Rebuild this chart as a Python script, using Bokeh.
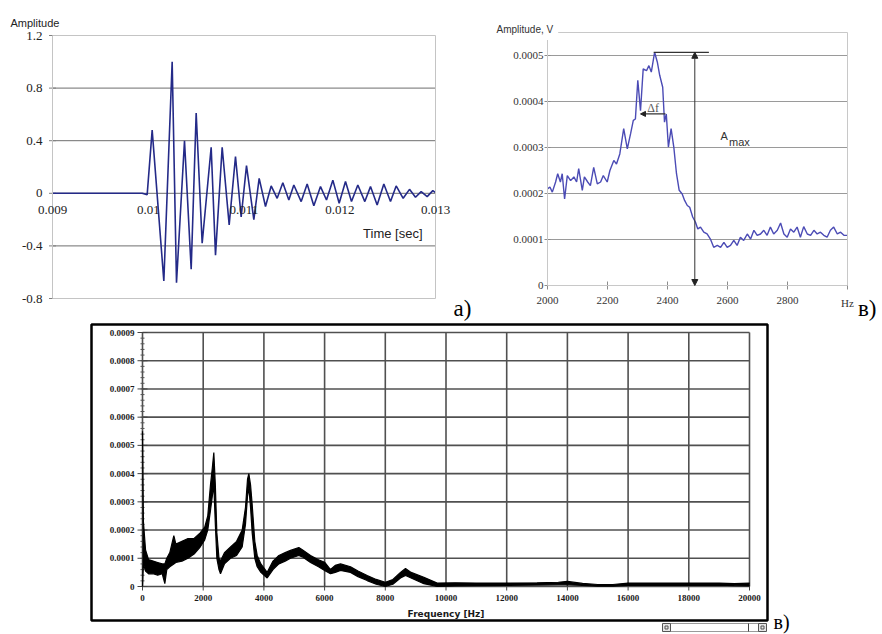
import math
from bokeh.plotting import figure
from bokeh.layouts import column, row
from bokeh.models import (Range1d, Label, LabelSet, Arrow, NormalHead, BoxAnnotation,
                          ColumnDataSource)
from bokeh.embed import file_html
from bokeh.resources import INLINE

# ---------------- data: a) time signal ----------------
a_time = [0.0090000, 0.0099365, 0.0099887, 0.0100409, 0.0101627, 0.0102498, 0.0102950, 0.0103786, 0.0104483, 0.0105005,
          0.0105631, 0.0106571, 0.0107023, 0.0107720, 0.0108451, 0.0109112, 0.0109704, 0.0110261, 0.0111027, 0.0111584,
          0.0112245, 0.0112837, 0.0113464, 0.0114056, 0.0114682, 0.0115204, 0.0115971, 0.0116597, 0.0117293, 0.0117990,
          0.0118616, 0.0119278, 0.0119939, 0.0120601, 0.0121227, 0.0121888, 0.0122619, 0.0123211, 0.0123907, 0.0124604,
          0.0125300, 0.0125892, 0.0126623, 0.0127285, 0.0127911, 0.0128503, 0.0129130, 0.0129721, 0.0130000]
a_amp = [0.0, 0.0, -0.01, 0.48, -0.667, 1.0, -0.68, 0.40, -0.578, 0.61,
         -0.38, 0.35, -0.47, 0.35, -0.24, 0.28, -0.18, 0.21, -0.20, 0.114,
         -0.10, 0.056, -0.038, 0.081, -0.051, 0.063, -0.063, 0.071, -0.095, 0.051,
         -0.051, 0.10, -0.076, 0.089, -0.063, 0.063, -0.063, 0.051, -0.089, 0.071,
         -0.063, 0.056, -0.038, 0.030, -0.030, 0.013, -0.025, 0.020, 0.005]
a_xlim = [0.009, 0.013]
a_ylim = [-0.8, 1.2]
a_yticks = [-0.8, -0.4, 0.0, 0.4, 0.8, 1.2]
a_ytick_labels = ["-0.8", "-0.4", "0", "0.4", "0.8", "1.2"]
a_ygrid = [-0.4, 0.0, 0.4, 0.8]
a_xticks = [0.009, 0.010, 0.011, 0.012, 0.013]
a_xtick_labels = ["0.009", "0.01", "0.011", "0.012", "0.013"]

# ---------------- data: top-right spectrum detail ----------------
b_freq = [2000, 2008, 2016, 2027, 2034, 2043, 2049, 2057, 2066, 2077,
          2088, 2097, 2104, 2116, 2123, 2134, 2143, 2154, 2166, 2177,
          2186, 2199, 2208, 2221, 2230, 2241, 2254, 2266, 2277, 2286,
          2293, 2301, 2310, 2319, 2330, 2338, 2346, 2357, 2366, 2374,
          2384, 2390, 2396, 2403, 2412, 2421, 2430, 2439, 2449, 2457,
          2466, 2474, 2484, 2493, 2501, 2510, 2521, 2532, 2543, 2554,
          2566, 2577, 2588, 2599, 2610, 2621, 2632, 2643, 2654, 2666,
          2677, 2688, 2699, 2710, 2721, 2732, 2743, 2754, 2766, 2777,
          2788, 2799, 2810, 2821, 2832, 2843, 2854, 2866, 2877, 2888,
          2899, 2910, 2921, 2932, 2943, 2954, 2966, 2977, 2988, 3000]
b_amp_e4 = [2.10, 2.14, 2.03, 2.25, 2.43, 2.25, 2.43, 1.88, 2.39, 2.28,
            2.36, 2.25, 2.54, 2.07, 2.36, 2.25, 2.17, 2.57, 2.21, 2.25,
            2.39, 2.25, 2.50, 2.72, 2.64, 2.86, 3.41, 2.97, 3.30, 3.59,
            3.62, 4.46, 3.80, 4.71, 4.67, 4.78, 4.64, 5.07, 4.86, 4.57,
            4.31, 3.55, 3.73, 3.01, 3.41, 3.01, 2.43, 2.07, 1.99, 1.85,
            1.74, 1.70, 1.49, 1.38, 1.23, 1.27, 1.16, 1.12, 1.01, 0.83,
            0.87, 0.83, 0.94, 0.83, 0.87, 0.98, 0.87, 1.05, 0.98, 1.12,
            1.01, 1.20, 1.09, 1.12, 1.20, 1.09, 1.27, 1.12, 1.20, 1.36,
            1.12, 1.05, 1.23, 1.16, 1.27, 1.05, 1.28, 1.12, 1.09, 1.20,
            1.12, 1.16, 1.09, 1.05, 1.20, 1.27, 1.12, 1.16, 1.09, 1.09]
b_xlim = [2000, 3000]
b_ylim = [0.0, 0.00055]
b_yticks = [0.0, 0.0001, 0.0002, 0.0003, 0.0004, 0.0005]
b_ytick_labels = ["0", "0.0001", "0.0002", "0.0003", "0.0004", "0.0005"]
b_ygrid = [0.0001, 0.0002, 0.0003, 0.0004, 0.0005]
b_xticks = [2000, 2200, 2400, 2600, 2800, 3000]
b_xtick_labels = ["2000", "2200", "2400", "2600", "2800", "Hz"]
b_amax_freq = 2491            # vertical A_max arrow
b_top_line = [2354, 2538]     # horizontal line at the maximum
b_df_level = 0.000373         # Δf arrow level
b_df_span = [2393, 2310]

# ---------------- data: bottom full spectrum (band of the noisy trace) ----------------
c_freq = [0, 30, 100, 200, 350, 500, 650, 736, 800, 900,
          1032, 1100, 1300, 1500, 1700, 1900, 2050, 2150, 2240, 2300,
          2350, 2400, 2450, 2520, 2570, 2700, 2900, 3100, 3284, 3393,
          3460, 3504, 3560, 3614, 3700, 3779, 3900, 4108, 4300, 4493,
          4700, 4877, 5150, 5265, 5536, 5800, 6000, 6195, 6350, 6525,
          6854, 7100, 7403, 7700, 8000, 8250, 8500, 8666, 8850, 9270,
          9710, 10300, 11000, 12000, 13000, 13700, 14000, 14500, 15000, 15500,
          16000, 17000, 18000, 19000, 19500, 20000]
c_low_e4 = [0.0, 0.8, 0.55, 0.45, 0.45, 0.4, 0.45, 0.1, 0.6, 0.7,
            0.8, 0.85, 0.9, 1.0, 1.15, 1.4, 1.65, 2.0, 2.7, 3.2,
            3.6, 2.2, 1.0, 0.6, 0.45, 0.8, 1.0, 1.1, 1.4, 2.2,
            3.2, 3.5, 2.8, 1.9, 1.0, 0.7, 0.5, 0.3, 0.6, 0.8,
            0.9, 1.0, 1.1, 1.05, 0.85, 0.7, 0.57, 0.45, 0.5, 0.57,
            0.5, 0.35, 0.21, 0.08, 0.0, 0.08, 0.3, 0.39, 0.3, 0.1,
            0.0, 0.02, 0.03, 0.04, 0.05, 0.06, 0.06, 0.04, 0.01, 0.01,
            0.04, 0.05, 0.04, 0.05, 0.03, 0.02]
c_high_e4 = [5.5, 2.3, 1.3, 0.95, 0.9, 0.85, 0.8, 0.8, 1.0, 1.2,
             1.8, 1.5, 1.6, 1.7, 1.7, 1.9, 2.1, 2.5, 3.6, 4.2,
             4.75, 3.6, 1.9, 1.0, 0.9, 1.2, 1.4, 1.6, 2.0, 2.8,
             3.8, 4.0, 3.6, 2.9, 1.6, 1.1, 0.8, 0.5, 0.9, 1.1,
             1.2, 1.28, 1.38, 1.3, 1.1, 0.95, 0.86, 0.6, 0.75, 0.8,
             0.7, 0.55, 0.39, 0.25, 0.15, 0.25, 0.5, 0.64, 0.5, 0.33,
             0.12, 0.13, 0.12, 0.12, 0.13, 0.15, 0.18, 0.11, 0.07, 0.07,
             0.12, 0.12, 0.12, 0.12, 0.10, 0.12]
c_xlim = [0, 20000]
c_ylim = [0.0, 0.0009]
c_yticks = [0.0, 0.0001, 0.0002, 0.0003, 0.0004, 0.0005, 0.0006, 0.0007, 0.0008, 0.0009]
c_ytick_labels = ["0", "0.0001", "0.0002", "0.0003", "0.0004", "0.0005", "0.0006", "0.0007", "0.0008", "0.0009"]
c_xticks = [0, 2000, 4000, 6000, 8000, 10000, 12000, 14000, 16000, 18000, 20000]
c_xtick_labels = ["0", "2000", "4000", "6000", "8000", "10000", "12000", "14000", "16000", "18000", "20000"]
c_minor_step = 0.00002

UNIT = 1e-4
b_amp = [v * UNIT for v in b_amp_e4]
c_low = [v * UNIT for v in c_low_e4]
c_high = [v * UNIT for v in c_high_e4]

SANS = "Liberation Sans"
SERIF = "Liberation Serif"
TAHOMA = "DejaVu Sans"


# ---------- helpers: place a plot area (in canvas pixels) inside a full-canvas frame ----------
def x_range_for(lo, hi, px_lo, px_hi, width):
    s = (hi - lo) / (px_hi - px_lo)
    return Range1d(lo - px_lo * s, hi + (width - px_hi) * s)


def y_range_for(lo, hi, px_top, px_bottom, height):
    s = (hi - lo) / (px_bottom - px_top)
    return Range1d(lo - (height - px_bottom) * s, hi + px_top * s)


def make_fig(w, h, xr, yr):
    p = figure(width=w, height=h, x_range=xr, y_range=yr, output_backend="svg",
               toolbar_location=None, x_axis_location=None, y_axis_location=None,
               min_border=0, min_border_left=0, min_border_right=0,
               min_border_top=0, min_border_bottom=0)
    p.outline_line_color = None
    p.background_fill_color = "white"
    p.border_fill_color = "white"
    p.grid.visible = False
    return p


def labelset(p, xs, ys, texts, **kw):
    src = ColumnDataSource(dict(x=xs, y=ys, t=texts))
    p.add_layout(LabelSet(x="x", y="y", text="t", source=src, **kw))


# ================= figure a) =================
AW, AH = 480, 322
pa = make_fig(AW, AH, x_range_for(a_xlim[0], a_xlim[1], 52, 435, AW),
              y_range_for(a_ylim[0], a_ylim[1], 35, 298, AH))
pa.add_layout(BoxAnnotation(left=a_xlim[0], right=a_xlim[1], bottom=a_ylim[0], top=a_ylim[1],
                            fill_color=None, line_color="#c4c4c4", line_alpha=1, line_width=1))
pa.segment(x0=[a_xlim[0]] * len(a_ygrid), y0=a_ygrid, x1=[a_xlim[1]] * len(a_ygrid), y1=a_ygrid,
           line_color="#6e6e6e", line_width=1)
pa.segment(x0=[a_xlim[0]], y0=[a_ylim[0]], x1=[a_xlim[0]], y1=[a_ylim[1]],
           line_color="#808080", line_width=1)
pa.scatter([a_xlim[0]] * len(a_yticks), a_yticks, marker="dash", size=7,
           line_color="#808080", line_width=1)
labelset(pa, [a_xlim[0]] * len(a_yticks), a_yticks, a_ytick_labels, x_offset=-10,
         text_align="right", text_baseline="middle", text_font=SANS,
         text_font_size="13px", text_color="#222222")
labelset(pa, a_xticks, [0.0] * len(a_xticks), a_xtick_labels, y_offset=-13,
         text_align="center", text_baseline="top", text_font=SANS,
         text_font_size="13px", text_color="#222222")
pa.line(a_time, a_amp, line_color="#242a88", line_width=1.6)
pa.add_layout(Label(x=a_xlim[0], y=a_ylim[1], x_offset=-42, y_offset=13, text="Amplitude",
                    text_font=SANS, text_font_size="11px", text_color="#222222",
                    text_baseline="alphabetic"))
pa.add_layout(Label(x=a_xlim[1], y=0.0, x_offset=-13, y_offset=-40, text="Time [sec]",
                    text_font=SANS, text_font_size="13px", text_color="#222222",
                    text_align="right", text_baseline="alphabetic"))
pa.add_layout(Label(x=a_xlim[1], y=a_ylim[0], x_offset=18, y_offset=-10, text="a)",
                    text_font=SERIF, text_font_size="23px", text_color="black",
                    text_baseline="alphabetic"))

# ================= figure b) =================
BW, BH = 402, 322
pb = make_fig(BW, BH, x_range_for(b_xlim[0], b_xlim[1], 67, 367, BW),
              y_range_for(0.0, 0.0005, 55, 285, BH))
pb.add_layout(BoxAnnotation(left=b_xlim[0], right=b_xlim[1], bottom=b_ylim[0], top=b_ylim[1],
                            fill_color=None, line_color="#c8c8c8", line_alpha=1, line_width=1))
pb.segment(x0=[b_xlim[0]] * len(b_ygrid), y0=b_ygrid, x1=[b_xlim[1]] * len(b_ygrid), y1=b_ygrid,
           line_color="#9a9a9a", line_width=1)
pb.segment(x0=[b_xlim[0], b_xlim[0]], y0=[b_ylim[0], b_ylim[0]],
           x1=[b_xlim[0], b_xlim[1]], y1=[b_ylim[1], b_ylim[0]],
           line_color="#8c8c8c", line_width=1)
pb.scatter([b_xlim[0]] * len(b_yticks), b_yticks, marker="dash", size=6,
           line_color="#8c8c8c", line_width=1)
pb.scatter(b_xticks, [0.0] * len(b_xticks), marker="dash", size=8, angle=math.pi / 2,
           line_color="#8c8c8c", line_width=1)
labelset(pb, [b_xlim[0]] * len(b_yticks), b_yticks, b_ytick_labels, x_offset=-4,
         text_align="right", text_baseline="middle", text_font=SANS,
         text_font_size="11px", text_color="#333333")
labelset(pb, b_xticks, [0.0] * len(b_xticks), b_xtick_labels, y_offset=-11,
         text_align="center", text_baseline="top", text_font=SANS,
         text_font_size="11px", text_color="#333333")
pb.line(b_freq, b_amp, line_color="#4b4bb5", line_width=1.4)

peak = max(b_amp)
pb.segment(x0=[b_top_line[0]], y0=[peak], x1=[b_top_line[1]], y1=[peak],
           line_color="#333333", line_width=1.2)
pb.add_layout(Arrow(start=NormalHead(size=6, fill_color="#222222", line_color="#222222"),
                    end=NormalHead(size=6, fill_color="#222222", line_color="#222222"),
                    x_start=b_amax_freq, y_start=peak, x_end=b_amax_freq, y_end=0,
                    line_color="#333333", line_width=1))
pb.add_layout(Arrow(end=NormalHead(size=5, fill_color="#222222", line_color="#222222"),
                    x_start=b_df_span[0], y_start=b_df_level, x_end=b_df_span[1], y_end=b_df_level,
                    line_color="#333333", line_width=1.2))
pb.add_layout(Label(x=2352, y=0.000385, text="Δf", text_font=SERIF, text_font_size="12px",
                    text_color="#555555", text_align="center", text_baseline="alphabetic"))
pb.add_layout(Label(x=2577, y=0.000326, text="A", text_font=SANS, text_font_size="11px",
                    text_color="#333333", text_baseline="alphabetic"))
pb.add_layout(Label(x=2605, y=0.000311, text="max", text_font=SANS, text_font_size="11px",
                    text_color="#333333", text_baseline="alphabetic"))
pb.add_layout(Label(x=b_xlim[0], y=b_ylim[1], x_offset=-56, y_offset=3, text="Amplitude, V",
                    text_font=SANS, text_font_size="10px", text_color="#333333",
                    text_baseline="alphabetic", background_fill_color="white", padding=5))
pb.add_layout(Label(x=b_xlim[1], y=0.0, x_offset=29, y_offset=-23, text="в)",
                    text_font=SERIF, text_font_size="23px", text_color="black",
                    text_align="right", text_baseline="alphabetic"))

# ================= figure c) =================
CW, CH = 882, 312
pc = make_fig(CW, CH, x_range_for(c_xlim[0], c_xlim[1], 142, 749, CW),
              y_range_for(c_ylim[0], c_ylim[1], 10, 264, CH))
nx, ny = len(c_xticks), len(c_yticks)
pc.segment(x0=c_xticks, y0=[c_ylim[0]] * nx, x1=c_xticks, y1=[c_ylim[1]] * nx,
           line_color="#505050", line_width=1.6)
pc.segment(x0=[c_xlim[0]] * ny, y0=c_yticks, x1=[c_xlim[1]] * ny, y1=c_yticks,
           line_color="#505050", line_width=1.6)
c_minor = [i * c_minor_step for i in range(int(round(c_ylim[1] / c_minor_step)) + 1)]
pc.scatter([c_xlim[0]] * len(c_minor), c_minor, marker="dash", size=4,
           line_color="#555555", line_width=1)
pc.scatter([c_xlim[0]] * ny, c_yticks, marker="dash", size=10,
           line_color="#444444", line_width=1)
pc.scatter(c_xticks, [c_ylim[0]] * nx, marker="dash", size=8, angle=math.pi / 2,
           line_color="#444444", line_width=1)
labelset(pc, [c_xlim[0]] * ny, c_yticks, c_ytick_labels, x_offset=-8,
         text_align="right", text_baseline="middle", text_font=TAHOMA,
         text_font_style="bold", text_font_size="9px", text_color="#1a1a1a")
labelset(pc, c_xticks, [c_ylim[0]] * nx, c_xtick_labels, y_offset=-8,
         text_align="center", text_baseline="top", text_font=TAHOMA,
         text_font_style="bold", text_font_size="9px", text_color="#1a1a1a")
pc.add_layout(Label(x=(c_xlim[0] + c_xlim[1]) / 2, y=c_ylim[0], y_offset=-27, text="Frequency [Hz]",
                    text_font=TAHOMA, text_font_style="bold", text_font_size="9px",
                    text_color="#1a1a1a", text_align="center", text_baseline="alphabetic"))

pc.varea(x=c_freq, y1=c_low, y2=c_high, fill_color="black")
pc.line(c_freq, c_high, line_color="black", line_width=1.2)
pc.line(c_freq, c_low, line_color="black", line_width=1.2)

# outer frame of the screenshot (screen units = canvas pixels from bottom-left)
pc.add_layout(BoxAnnotation(left=91, right=767, bottom=14, top=310,
                            left_units="screen", right_units="screen",
                            bottom_units="screen", top_units="screen",
                            fill_color=None, line_color="black", line_alpha=1, line_width=2.5))
# scroll-bar remnants under the frame
pc.add_layout(BoxAnnotation(left=670, right=758, bottom=3, top=11,
                            left_units="screen", right_units="screen",
                            bottom_units="screen", top_units="screen",
                            fill_color="white", fill_alpha=1, line_color="#9a9a9a",
                            line_alpha=1, line_width=1))
for lx in (662, 758):
    pc.add_layout(BoxAnnotation(left=lx, right=lx + 8, bottom=3, top=11,
                                left_units="screen", right_units="screen",
                                bottom_units="screen", top_units="screen",
                                fill_color="#e6e6e6", fill_alpha=1, line_color="#555555",
                                line_alpha=1, line_width=1))
    pc.add_layout(BoxAnnotation(left=lx + 2.5, right=lx + 5.5, bottom=5.5, top=8.5,
                                left_units="screen", right_units="screen",
                                bottom_units="screen", top_units="screen",
                                fill_color=None, line_color="#555555", line_alpha=1, line_width=1))
pc.add_layout(BoxAnnotation(left=747.5, right=748.5, bottom=3, top=11,
                            left_units="screen", right_units="screen",
                            bottom_units="screen", top_units="screen",
                            fill_color="#444444", fill_alpha=1, line_color=None))
pc.add_layout(Label(x=773, y=13, x_units="screen", y_units="screen", text="в)",
                    text_font=SERIF, text_font_size="20px", text_color="black",
                    text_baseline="alphabetic"))

layout = column(row(pa, pb), pc)
open("out.html", "w").write(file_html(layout, INLINE))
